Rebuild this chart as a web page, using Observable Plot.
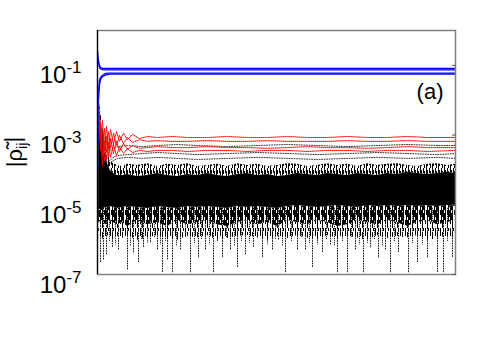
<!DOCTYPE html>
<html>
<head>
<meta charset="utf-8">
<script src="https://cdn.jsdelivr.net/npm/d3@7"></script>
<script src="https://cdn.jsdelivr.net/npm/@observablehq/plot@0.6"></script>
<style>
  html, body { margin: 0; padding: 0; background: #fff; }
  #chart { width: 500px; height: 350px; }
  svg { font-family: "Liberation Sans", Arial, sans-serif; }
</style>
</head>
<body>
<div id="chart"></div>
<svg width="0" height="0" style="position:absolute">
  <defs>
    <pattern id="fuzz" width="6" height="8" patternUnits="userSpaceOnUse">
      <rect x="0" y="0" width="1" height="8" fill="black"/>
      <rect x="1" y="2" width="1" height="4" fill="black"/>
      <rect x="3" y="0" width="1" height="5" fill="black"/>
      <rect x="4" y="3" width="1" height="5" fill="black"/>
    </pattern>
    <pattern id="hatch" width="7" height="10" patternUnits="userSpaceOnUse">
      <rect x="0" y="0" width="1" height="10" fill="black"/>
      <rect x="1" y="0" width="1" height="7" fill="black"/>
      <rect x="2" y="0" width="1" height="10" fill="black"/>
      <rect x="3" y="3" width="1" height="7" fill="black"/>
      <rect x="4" y="0" width="1" height="10" fill="black"/>
      <rect x="6" y="0" width="1" height="5" fill="black"/>
    </pattern>
    <pattern id="light" width="5" height="12" patternUnits="userSpaceOnUse">
      <rect x="0" y="0" width="1" height="8" fill="black"/>
      <rect x="2" y="4" width="1" height="8" fill="black"/>
      <rect x="3" y="0" width="1" height="3" fill="black"/>
    </pattern>
  </defs>
</svg>
<script>
// ---- data (log10 of |rho_ij|) ----
const tickExp = [-1, -3, -5, -7];

// blue (large elements)
const blueT = [0, 1, 2, 3, 5, 8, 12, 20, 358];
const blue1Log = [-0.57, -0.86, -1.00, -1.06, -1.09, -1.09, -1.09, -1.09, -1.09];
const blue2Log = [-0.75, -0.95, -1.06, -1.10, -1.12, -1.13, -1.13, -1.13, -1.13];
const blue3Log = [-4.16, -1.72, -1.43, -1.35, -1.29, -1.23, -1.22, -1.22, -1.22];
const blue4Log = [-3.44, -2.01, -1.55, -1.41, -1.32, -1.28, -1.25, -1.25, -1.25];

// red dotted
const redT = [1, 3, 5, 7, 9, 11, 13, 16, 19, 22, 26, 30, 35, 42, 50, 60, 75, 90, 110, 130, 150, 170, 190, 210, 230, 250, 270, 290, 310, 330, 358];
const red1Log = [-2.01,-3.16,-2.58,-3.44,-2.75,-3.38,-2.84,-3.27,-2.90,-3.18,-2.95,-3.13,-2.98,-3.10,-3.04,-3.07,-3.04,-3.07,-3.07,-3.04,-3.07,-3.07,-3.04,-3.07,-3.07,-3.04,-3.07,-3.07,-3.04,-3.07,-3.07];
const red2Log = [-2.15,-2.73,-3.59,-2.81,-3.50,-2.90,-3.38,-2.95,-3.30,-3.01,-3.24,-3.07,-3.21,-3.13,-3.18,-3.16,-3.18,-3.18,-3.16,-3.18,-3.18,-3.16,-3.18,-3.18,-3.18,-3.16,-3.18,-3.18,-3.16,-3.18,-3.18];
const red3Log = [-2.29,-3.44,-2.93,-3.73,-3.04,-3.61,-3.10,-3.53,-3.18,-3.47,-3.24,-3.41,-3.30,-3.38,-3.36,-3.33,-3.36,-3.36,-3.33,-3.36,-3.36,-3.38,-3.36,-3.33,-3.36,-3.36,-3.38,-3.36,-3.33,-3.36,-3.36];
const red4Log = [-2.44,-3.01,-3.87,-3.16,-3.73,-3.21,-3.64,-3.27,-3.59,-3.33,-3.53,-3.38,-3.50,-3.44,-3.47,-3.44,-3.44,-3.47,-3.44,-3.44,-3.47,-3.44,-3.44,-3.47,-3.44,-3.44,-3.47,-3.44,-3.44,-3.47,-3.44];

// black dotted
const blackT = [0, 4, 8, 12, 16, 20, 30, 45, 60, 80, 100, 130, 160, 190, 220, 250, 280, 310, 340, 358];
const black1Log = [-2.15,-2.87,-3.16,-3.44,-3.38,-3.33,-3.30,-3.33,-3.30,-3.27,-3.30,-3.33,-3.30,-3.27,-3.30,-3.33,-3.30,-3.27,-3.30,-3.30];
const black2Log = [-2.29,-3.16,-3.59,-3.73,-3.64,-3.59,-3.56,-3.53,-3.50,-3.53,-3.56,-3.53,-3.50,-3.53,-3.56,-3.53,-3.50,-3.53,-3.56,-3.53];
const black3Log = [-2.44,-3.44,-3.73,-3.82,-3.73,-3.67,-3.64,-3.67,-3.64,-3.67,-3.70,-3.67,-3.64,-3.67,-3.70,-3.67,-3.64,-3.67,-3.64,-3.67];

// dense black band (envelopes)
const bandT = [0, 2, 4, 6, 8, 10, 13, 16, 20, 25, 30, 40, 50, 60, 70, 80, 90, 100, 110, 120, 130, 140, 150, 160, 170, 180, 190, 200, 210, 220, 230, 240, 250, 260, 270, 280, 290, 300, 310, 320, 330, 340, 350, 358];
const fuzzTopLog = [-1.80,-2.10,-2.50,-2.95,-3.30,-3.55,-3.72,-3.82,-3.87,
  -3.90,-3.84,-3.87,-3.82,-3.90,-3.84,-3.87,-3.82,-3.90,-3.87,-3.84,-3.90,-3.82,-3.87,-3.84,-3.90,-3.87,-3.82,-3.84,-3.90,-3.87,-3.82,-3.87,-3.84,-3.90,-3.82,-3.87,-3.84,-3.82,-3.87,-3.90,-3.84,-3.82,-3.87,-3.84];
const coreTopLog = [-2.01,-2.44,-2.87,-3.30,-3.59,-3.82,-4.02,-4.10,-4.16,
  -4.16,-4.13,-4.19,-4.16,-4.10,-4.16,-4.19,-4.13,-4.16,-4.10,-4.16,-4.19,-4.13,-4.10,-4.16,-4.13,-4.19,-4.16,-4.10,-4.13,-4.16,-4.10,-4.13,-4.16,-4.10,-4.13,-4.16,-4.10,-4.13,-4.07,-4.10,-4.13,-4.10,-4.07,-4.10];
const coreBotLog = [-5.16,-5.14,-5.11,-5.11,-5.08,-5.08,-5.05,-5.08,-5.11,
  -5.08,-5.05,-5.08,-5.11,-5.05,-5.08,-5.11,-5.05,-5.08,-5.05,-5.08,-5.11,-5.05,-5.08,-5.05,-5.08,-5.11,-5.05,-5.02,-5.05,-5.08,-5.05,-5.02,-5.05,-5.08,-5.02,-5.05,-5.02,-5.05,-5.02,-5.05,-5.02,-5.05,-5.02,-5.05];
const hatchBotLog = [-5.55,-5.50,-5.45,-5.50,-5.57,-5.51,-5.45,-5.51,-5.57,
  -5.51,-5.62,-5.45,-5.57,-5.51,-5.62,-5.45,-5.57,-5.51,-5.45,-5.57,-5.62,-5.51,-5.45,-5.57,-5.51,-5.62,-5.45,-5.51,-5.57,-5.45,-5.51,-5.62,-5.57,-5.45,-5.51,-5.57,-5.45,-5.51,-5.62,-5.51,-5.45,-5.57,-5.51,-5.45];
const lightBotLog = [-5.90,-5.95,-5.88,-6.02,-5.97,-5.88,-5.95,-6.02,-5.90,
  -5.97,-5.88,-6.02,-5.95,-5.88,-5.97,-6.02,-5.90,-5.95,-5.88,-6.02,-5.97,-5.90,-5.88,-5.95,-6.02,-5.90,-5.97,-5.88,-5.95,-6.02,-5.88,-5.97,-5.90,-5.95,-6.02,-5.88,-5.97,-5.90,-5.95,-5.88,-6.02,-5.95,-5.90,-5.97];

// deep downward spikes
const spikeT = [3,6,9,15,21,30,36,41,46,53,60,65,70,75,83,93,101,108,116,125,133,140,148,156,165,175,181,188,200,208,215,225,233,240,250,258,266,273,281,288,293,301,311,320,330,340,346,355];
const spikeLog = [-6.66,-6.60,-6.45,-6.22,-6.31,-6.88,-6.40,-6.66,-6.22,-6.11,-6.31,-6.94,-6.60,-6.97,-6.31,-6.97,-6.54,-6.31,-6.97,-6.51,-6.31,-6.80,-6.45,-6.22,-6.51,-6.31,-6.02,-6.97,-6.31,-6.31,-6.80,-6.37,-6.17,-6.97,-6.97,-6.31,-6.97,-6.25,-6.54,-6.31,-6.97,-6.37,-6.97,-6.68,-6.54,-6.94,-6.97,-6.51];
// shorter spikes
const shortT = [12,18,25,33,44,50,57,63,68,79,88,97,104,112,120,129,137,144,152,160,170,178,185,194,204,212,220,229,237,245,254,262,270,277,285,297,305,315,325,335,350];
const shortLog = [-6.05,-6.15,-5.95,-6.20,-6.00,-6.10,-5.95,-6.15,-6.05,-6.20,-5.95,-6.10,-6.00,-6.15,-6.05,-5.95,-6.20,-6.05,-6.10,-5.95,-6.15,-6.00,-6.20,-6.05,-5.95,-6.10,-6.15,-6.00,-6.20,-6.05,-5.95,-6.15,-6.10,-6.00,-6.20,-6.05,-5.95,-6.10,-6.15,-6.00,-6.05];
const spikeTopLog = -5.1;

// ---- build tables ----
const toRows = (id, ts, logs) => ts.map((t, i) => ({id, t, v: 10 ** logs[i]}));
const blueRows = [
  ...toRows("b1", blueT, blue1Log), ...toRows("b2", blueT, blue2Log),
  ...toRows("b3", blueT, blue3Log), ...toRows("b4", blueT, blue4Log)];
const redRows = [
  ...toRows("r1", redT, red1Log), ...toRows("r2", redT, red2Log),
  ...toRows("r3", redT, red3Log), ...toRows("r4", redT, red4Log)];
const blackRows = [
  ...toRows("k1", blackT, black1Log), ...toRows("k2", blackT, black2Log),
  ...toRows("k3", blackT, black3Log)];
const band = bandT.map((t, i) => ({
  t,
  fuzzTop: 10 ** fuzzTopLog[i], coreTop: 10 ** coreTopLog[i],
  coreBot: 10 ** coreBotLog[i], hatchBot: 10 ** hatchBotLog[i], lightBot: 10 ** lightBotLog[i]
}));
const spikes = spikeT.map((t, i) => ({t, top: 10 ** spikeTopLog, bot: 10 ** spikeLog[i]}));
const shorts = shortT.map((t, i) => ({t, top: 10 ** spikeTopLog, bot: 10 ** shortLog[i]}));
const tickValues = tickExp.map(e => 10 ** e);

const plot = Plot.plot({
  width: 500,
  height: 350,
  marginTop: 30,
  marginRight: 45,
  marginBottom: 76,
  marginLeft: 97,
  style: {fontFamily: "Liberation Sans, Arial, sans-serif", background: "#fff"},
  x: {domain: [0, 358], axis: null},
  y: {type: "log", domain: [1e-7, 1]},
  marks: [
    Plot.areaY(band, {x: "t", y1: "coreTop", y2: "fuzzTop", fill: "url(#fuzz)", clip: true}),
    Plot.areaY(band, {x: "t", y1: "coreBot", y2: "coreTop", fill: "black", clip: true}),
    Plot.areaY(band, {x: "t", y1: "hatchBot", y2: "coreBot", fill: "url(#hatch)", clip: true}),
    Plot.areaY(band, {x: "t", y1: "lightBot", y2: "hatchBot", fill: "url(#light)", clip: true}),
    Plot.ruleX(spikes, {x: "t", y1: "top", y2: "bot", stroke: "black", strokeWidth: 1, strokeDasharray: "1.5,1", clip: true}),
    Plot.ruleX(shorts, {x: "t", y1: "top", y2: "bot", stroke: "black", strokeWidth: 1, strokeDasharray: "1,1", clip: true}),
    Plot.line(blackRows, {x: "t", y: "v", z: "id", stroke: "#333", strokeWidth: 1, strokeDasharray: "1,1.5", clip: true}),
    Plot.line(redRows, {x: "t", y: "v", z: "id", stroke: "#ff0000", strokeWidth: 1, strokeDasharray: "1,1", clip: true}),
    Plot.line(blueRows, {x: "t", y: "v", z: "id", stroke: "#0000ff", strokeWidth: 1.3, clip: true}),
    Plot.frame({stroke: "#808080", strokeWidth: 1.5}),
    Plot.ruleX([0], {stroke: "black", strokeWidth: 1.2}),
    Plot.axisY({anchor: "right", ticks: tickValues, tickSize: -4, tickFormat: () => "", stroke: "#555"}),
    Plot.axisY({anchor: "left", ticks: tickValues, tickSize: 0, tickPadding: 16,
      tickFormat: d => "10^" + Math.round(Math.log10(d)), fontSize: 24, fill: "black", label: null}),
    Plot.text(["(a)"], {frameAnchor: "top-right", dx: -12, dy: 61, lineAnchor: "middle", textAnchor: "end", fontSize: 22, fill: "black"})
  ]
});

// superscript exponents in tick labels
d3.select(plot).selectAll('g[aria-label="y-axis tick label"] text').each(function() {
  const s = this.textContent;
  const m = s.match(/10\^(-?\d+)/);
  if (!m) return;
  const t = d3.select(this);
  t.text(null).attr("font-size", 24).attr("dy", "0.43em");
  t.append("tspan").text("10");
  t.append("tspan").attr("dy", "-0.58em").attr("font-size", 17).text(m[1]);
});

// y-axis title |rho~_ij|
const svg = d3.select(plot);
const title = svg.append("text")
  .attr("transform", "translate(22,152) rotate(-90)")
  .attr("text-anchor", "middle")
  .attr("font-size", 22)
  .attr("fill", "black");
title.append("tspan").text("|\u03C1\u0303");
title.append("tspan").attr("font-size", 15).attr("dy", "0.3em").text("ij");
title.append("tspan").attr("dy", "-0.3em").text("|");

document.getElementById("chart").appendChild(plot);
</script>
</body>
</html>
